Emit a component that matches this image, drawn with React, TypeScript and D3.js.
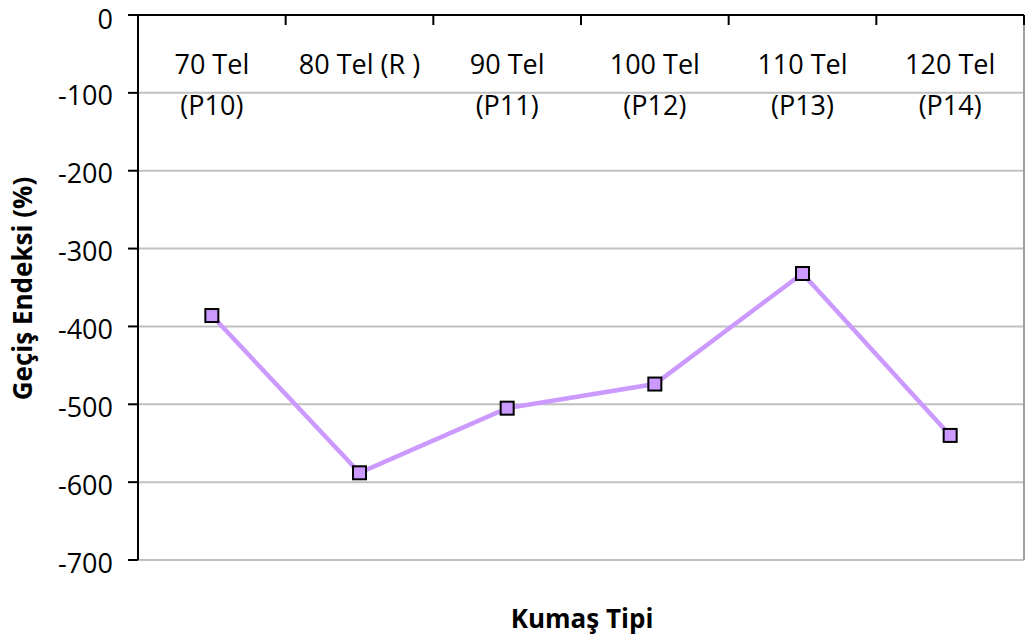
import React from "react";
import * as d3 from "d3";

const categories = ["70 Tel|(P10)", "80 Tel (R )", "90 Tel|(P11)", "100 Tel|(P12)", "110 Tel|(P13)", "120 Tel|(P14)"];
const values = [-386, -588, -505, -474, -332, -540];
const yTicks = [0, -100, -200, -300, -400, -500, -600, -700];
const yTitle = "Geçiş Endeksi (%)";
const xTitle = "Kumaş Tipi";

const W = 1027, H = 639;
const L = 138, R = 1024, T = 15, B = 560;
const font = "'Open Sans', sans-serif";

export default function App() {
  const x = d3.scaleBand<string>().domain(categories).range([L, R]);
  const y = d3.scaleLinear().domain([0, -700]).range([T, B]);
  const line = d3.line<number>()
    .x((_, i) => (x(categories[i]) as number) + x.bandwidth() / 2)
    .y((d) => y(d));
  return (
    <svg width={W} height={H} style={{ position: "fixed", left: 0, top: 0, background: "#fff" }} fontFamily={font}>
      <rect x={0} y={0} width={W} height={H} fill="#fff" />
      {yTicks.filter((t) => t !== 0).map((t) => (
        <line key={"g" + t} x1={L} x2={R} y1={y(t)} y2={y(t)} stroke="#c0c0c0" strokeWidth={2} />
      ))}
      <line x1={R} x2={R} y1={T} y2={B} stroke="#a0a0a0" strokeWidth={2} />
      {/* y axis */}
      <line x1={L} x2={L} y1={T} y2={B} stroke="#000" strokeWidth={2} />
      {yTicks.map((t) => (
        <g key={"t" + t}>
          <line x1={L - 10} x2={L} y1={y(t)} y2={y(t)} stroke="#000" strokeWidth={2} />
          <text x={L - 25} y={Math.max(y(t) + 12.5, 29)} textAnchor="end" fontSize={27} fill="#000">{t}</text>
        </g>
      ))}
      {/* x axis at top */}
      <line x1={L} x2={R} y1={T} y2={T} stroke="#000" strokeWidth={2} />
      {categories.map((c, i) => {
        const bx = (x(c) as number);
        const cx = bx + x.bandwidth() / 2;
        const lines = c.split("|");
        return (
          <g key={c}>
            <line x1={bx + x.bandwidth()} x2={bx + x.bandwidth()} y1={T} y2={T + 10} stroke="#000" strokeWidth={2} />
            {lines.map((s, j) => (
              <text key={j} x={cx} y={74 + j * 41} textAnchor="middle" fontSize={27} fill="#000">{s}</text>
            ))}
          </g>
        );
      })}
      <path d={line(values) as string} fill="none" stroke="#cc99ff" strokeWidth={4.5} />
      {values.map((v, i) => {
        const cx = (x(categories[i]) as number) + x.bandwidth() / 2;
        return <rect key={i} x={cx - 6.5} y={y(v) - 6.5} width={13} height={13} fill="#cc99ff" stroke="#000" strokeWidth={2} />;
      })}
      <text transform={`translate(32,${(T + B) / 2 + 1}) rotate(-90)`} textAnchor="middle" fontSize={26} fontWeight="bold" fill="#000">{yTitle}</text>
      <text x={582} y={628} textAnchor="middle" fontSize={26} fontWeight="bold" fill="#000">{xTitle}</text>
    </svg>
  );
}
